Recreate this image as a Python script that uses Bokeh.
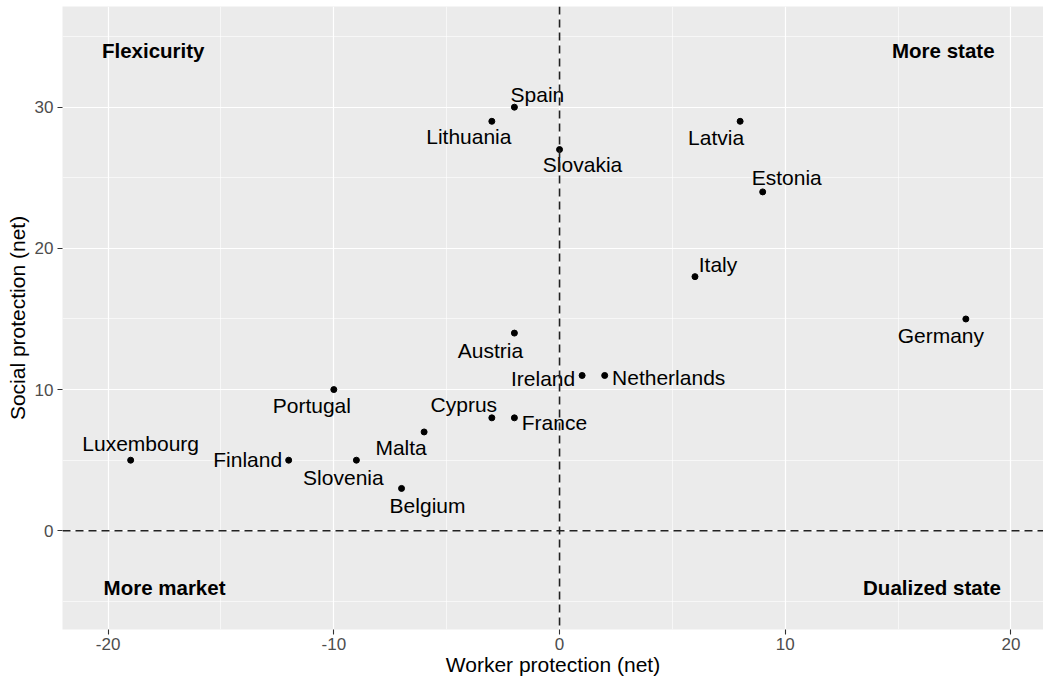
from bokeh.plotting import figure
from bokeh.models import ColumnDataSource, FixedTicker, Span
from bokeh.core.properties import value
from bokeh.embed import file_html
from bokeh.resources import INLINE

# ---- data ----
countries = ["Spain", "Lithuania", "Slovakia", "Latvia", "Estonia", "Italy", "Germany",
             "Austria", "Ireland", "Netherlands", "Portugal", "Cyprus", "France", "Malta",
             "Luxembourg", "Finland", "Slovenia", "Belgium"]
worker = [-2, -3, 0, 8, 9, 6, 18, -2, 1, 2, -10, -3, -2, -6, -19, -12, -9, -7]
social = [30, 29, 27, 29, 24, 18, 15, 14, 11, 11, 10, 8, 8, 7, 5, 5, 5, 3]

quadrants = ["Flexicurity", "More state", "More market", "Dualized state"]
quad_x = [-18.0, 17.0, -17.5, 16.5]
quad_y = [34, 34, -4, -4]

x_ticks = [-20, -10, 0, 10, 20]
x_tick_labels = ["-20", "-10", "0", "10", "20"]
y_ticks = [0, 10, 20, 30]
y_tick_labels = ["0", "10", "20", "30"]
x_minor = [-15, -5, 5, 15]
y_minor = [-5, 5, 15, 25, 35]

# label offsets in screen pixels (repel-like placement)
label_dx = [23, -23, 23, -24, 24, 23, -25, -24, -39, 64, -22, -28, 40, -23, 10, -41, -13, 26]
label_dy = [-13, 15, 15, 16, -14, -12, 17, 17, 3, 2, 16, -13, 5, 16, -17, -1, 17, 17]

FONT = "Liberation Sans"

p = figure(width=1043, height=681, output_backend="svg", toolbar_location=None,
           x_range=(-22.02, 21.44), y_range=(-6.99, 37.13),
           min_border_left=62, min_border_right=0, min_border_top=6, min_border_bottom=52)
p.background_fill_color = "#EBEBEB"
p.border_fill_color = "white"
p.outline_line_color = None

# grid
for g in (p.xgrid, p.ygrid):
    g.grid_line_color = "white"
    g.grid_line_width = 1.2
    g.minor_grid_line_color = "white"
    g.minor_grid_line_width = 0.6
p.xgrid.ticker = FixedTicker(ticks=x_ticks, minor_ticks=x_minor)
p.ygrid.ticker = FixedTicker(ticks=y_ticks, minor_ticks=y_minor)

# axes
p.xaxis.ticker = FixedTicker(ticks=x_ticks)
p.yaxis.ticker = FixedTicker(ticks=y_ticks)
p.xaxis.major_label_overrides = dict(zip(x_ticks, x_tick_labels))
p.yaxis.major_label_overrides = dict(zip(y_ticks, y_tick_labels))
for ax in (p.xaxis, p.yaxis):
    ax.axis_line_color = None
    ax.major_tick_line_color = "#333333"
    ax.major_tick_line_width = 1.1
    ax.major_tick_in = 0
    ax.major_tick_out = 5
    ax.minor_tick_line_color = None
    ax.major_label_text_font = FONT
    ax.major_label_text_font_size = "17px"
    ax.major_label_text_color = "#4D4D4D"
    ax.axis_label_text_font = FONT
    ax.axis_label_text_font_size = "21px"
    ax.axis_label_text_font_style = "normal"
    ax.axis_label_text_color = "black"
p.xaxis.axis_label = "Worker protection (net)"
p.yaxis.axis_label = "Social protection (net)"
p.xaxis.major_label_standoff = 3
p.xaxis.axis_label_standoff = 0
p.yaxis.major_label_standoff = 4
p.yaxis.axis_label_standoff = 3

# reference lines
p.add_layout(Span(location=0, dimension="height", line_color="#222222", line_width=1.6, line_dash="8 5"))
p.add_layout(Span(location=0, dimension="width", line_color="#222222", line_width=1.6, line_dash="8 5"))

src = ColumnDataSource(dict(x=worker, y=social, name=countries, dx=label_dx, dy=label_dy))
p.scatter("x", "y", source=src, size=6, color="black")
p.text("x", "y", text="name", source=src, x_offset="dx", y_offset="dy",
       text_font=value(FONT), text_font_size="21px", text_color="black",
       text_align="center", text_baseline="middle")

qsrc = ColumnDataSource(dict(x=quad_x, y=quad_y, t=quadrants))
p.text("x", "y", text="t", source=qsrc, text_font=value(FONT), text_font_size="20.5px",
       text_font_style="bold", text_color="black", text_align="center", text_baseline="middle")

open("out.html", "w").write(file_html(p, INLINE))
